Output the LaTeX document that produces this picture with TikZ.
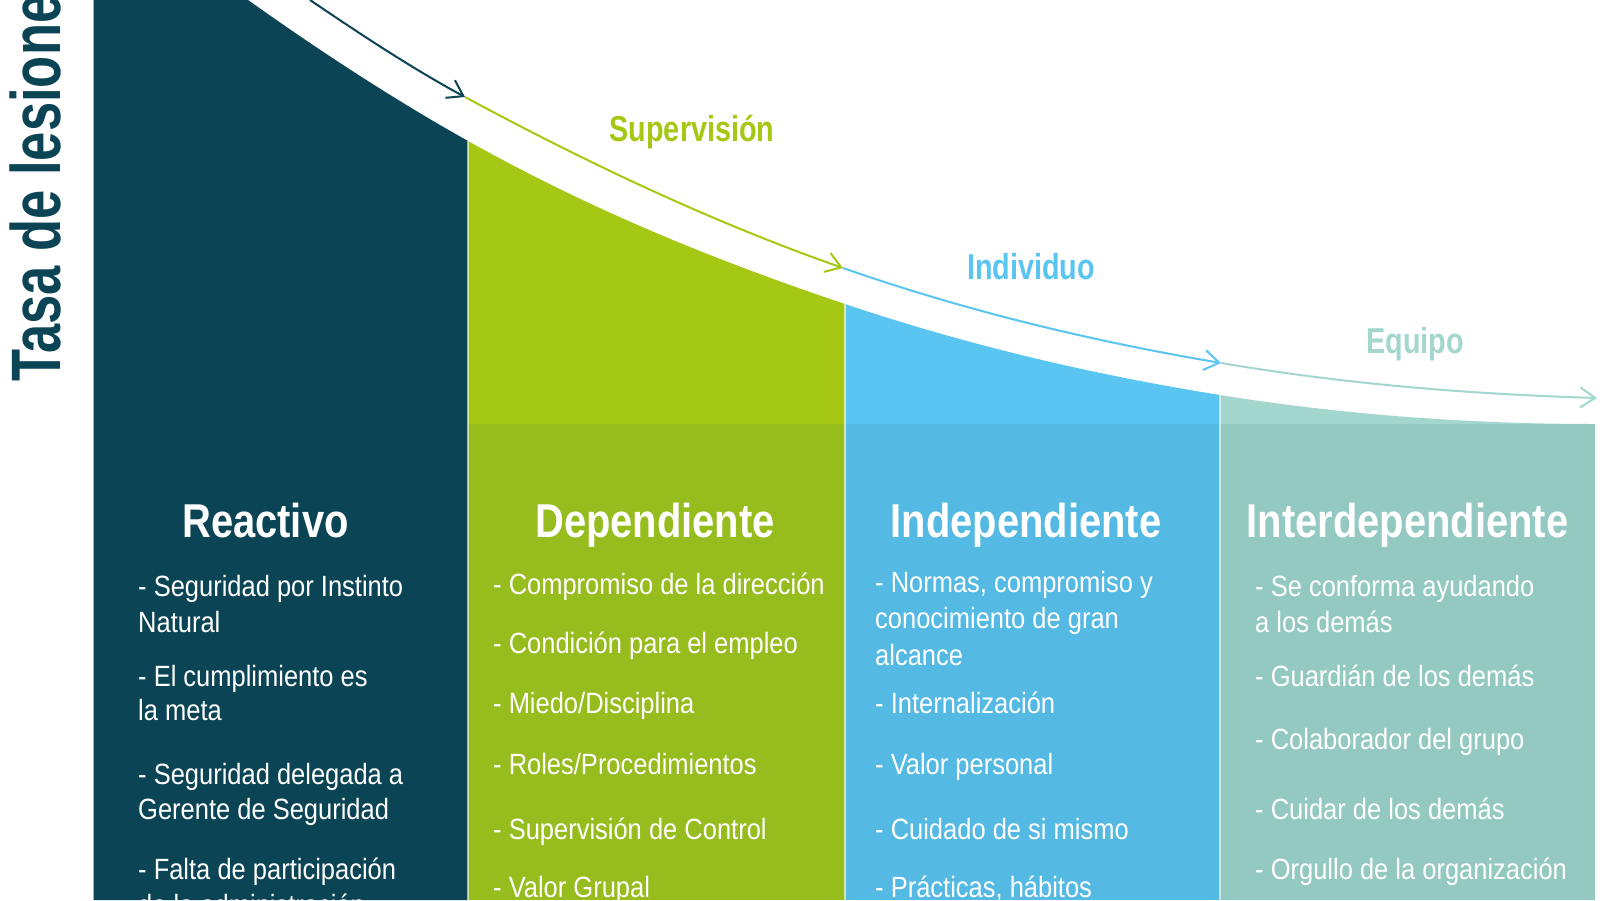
\documentclass[tikz,border=0pt]{standalone}
\usepackage{fontspec}
\setmainfont{Liberation Sans}[FakeStretch=0.87]
\newfontfamily\headfont{Liberation Sans}[FakeStretch=0.84]
\newfontfamily\labfont{Liberation Sans}[FakeStretch=0.80]
\newfontfamily\tasafont{Liberation Sans}[FakeStretch=0.75]
\usetikzlibrary{arrows.meta}
\definecolor{cdark}{HTML}{0B4555}
\definecolor{cgreen}{HTML}{A5C815}
\definecolor{cgreenlo}{HTML}{97BC1E}
\definecolor{cblue}{HTML}{5BC5F2}
\definecolor{cbluelo}{HTML}{54B9E3}
\definecolor{cteal}{HTML}{A3D7CD}
\definecolor{ctealo}{HTML}{94C9C1}
\tikzset{
  item/.style={anchor=base west, inner sep=0pt, text=white, font=\fontsize{29.3}{36}\selectfont},
  head/.style={anchor=base, inner sep=0pt, text=white, font=\headfont\bfseries\fontsize{47.5}{50}\selectfont},
  lab/.style={anchor=base, inner sep=0pt, font=\labfont\bfseries\fontsize{36}{40}\selectfont},
  sep/.style={white, line width=1.2pt, opacity=0.6},
  arr/.style={line width=2pt, -{Straight Barb[length=15pt, width=20pt, line width=2pt]}},
}
\begin{document}
\begin{tikzpicture}[x=1pt, y=-1pt]
\useasboundingbox (0,0) rectangle (1600,900);
\clip (0,0) rectangle (1600,900);
\fill[white] (0,0) rectangle (1600,900);
% curve points of the column tops
\coordinate (p0) at (248,0);
\coordinate (p1) at (468,141);
\coordinate (p2) at (845,304);
\coordinate (p3) at (1220,395);
\coordinate (p4) at (1595,424);
% columns
\fill[cdark] (93,-10) -- (248,-10) -- (p0) .. controls (321.3,52.1) and (394.7,99.9) .. (p1) -- (468,900) -- (93,900) -- cycle;
\fill[cgreen] (p1) .. controls (593.7,211.4) and (719.3,261.8) .. (p2) -- (845,424) -- (468,424) -- cycle;
\fill[cgreenlo] (468,424) rectangle (845,900);
\fill[cblue] (p2) .. controls (970,346) and (1095,375) .. (p3) -- (1220,424) -- (845,424) -- cycle;
\fill[cbluelo] (845,424) rectangle (1220,900);
\fill[cteal] (p3) .. controls (1345.3,415) and (1470.7,424) .. (p4) -- (1220,424) -- cycle;
\fill[ctealo] (1220,424) rectangle (1595,900);
% separators
\draw[sep] (93,0) -- (93,900);
\draw[sep] (p1) -- (468,900);
\draw[sep] (p2) -- (845,900);
\draw[sep] (p3) -- (1220,900);
% arrow curve
\coordinate (a0) at (310,0);
\coordinate (a1) at (465,97);
\coordinate (a2) at (843,268);
\coordinate (a3) at (1221,363);
\coordinate (a4) at (1597,398);
\draw[arr, cdark] (a0) .. controls (361.7,35.1) and (413.3,69.1) .. (a1);
\draw[arr, cgreen] (a1) .. controls (591,165) and (717,223.9) .. (a2);
\draw[arr, cblue] (a2) .. controls (969,312.1) and (1095,341.6) .. (a3);
\draw[arr, cteal] (a3) .. controls (1346.3,384.3) and (1471.7,394.2) .. (a4);
% arrow labels
\node[lab, text=cgreen] (lsup) at (692,141) {Supervisión};
\node[lab, text=cblue] (lind) at (1031,279) {Individuo};
\node[lab, text=cteal] (lequ) at (1415,353) {Equipo};
% axis title
\node[anchor=base west, inner sep=0pt, rotate=90, text=cdark, font=\tasafont\bfseries\fontsize{70}{70}\selectfont] (tasa) at (60,382) {Tasa de lesiones};
% headings
\node[head] (h1) at (265.5,537) {Reactivo};
\node[head] (h2) at (655,537) {Dependiente};
\node[head] (h3) at (1026,537) {Independiente};
\node[head] (h4) at (1407.5,537) {Interdependiente};
% column 1
\node[item] (c1a) at (138,596) {- Seguridad por Instinto};
\node[item] (c1b) at (138,632) {Natural};
\node[item] (c1c) at (138,686) {- El cumplimiento es};
\node[item] (c1d) at (138,720) {la meta};
\node[item] (c1e) at (138,784) {- Seguridad delegada a};
\node[item] (c1f) at (138,819) {Gerente de Seguridad};
\node[item] (c1g) at (138,879) {- Falta de participación};
\node[item] (c1h) at (138,915) {de la administración};
% column 2
\node[item] (c2a) at (493,594) {- Compromiso de la dirección};
\node[item] (c2b) at (493,653) {- Condición para el empleo};
\node[item] (c2c) at (493,713) {- Miedo/Disciplina};
\node[item] (c2d) at (493,774) {- Roles/Procedimientos};
\node[item] (c2e) at (493,839) {- Supervisión de Control};
\node[item] (c2f) at (493,897) {- Valor Grupal};
% column 3
\node[item] (c3a) at (875,592) {- Normas, compromiso y};
\node[item] (c3b) at (875,628) {conocimiento de gran};
\node[item] (c3c) at (875,665) {alcance};
\node[item] (c3d) at (875,713) {- Internalización};
\node[item] (c3e) at (875,774) {- Valor personal};
\node[item] (c3f) at (875,839) {- Cuidado de si mismo};
\node[item] (c3g) at (875,897) {- Prácticas, hábitos};
% column 4
\node[item] (c4a) at (1255,596) {- Se conforma ayudando};
\node[item] (c4b) at (1255,632) {a los demás};
\node[item] (c4c) at (1255,686) {- Guardián de los demás};
\node[item] (c4d) at (1255,749) {- Colaborador del grupo};
\node[item] (c4e) at (1255,819) {- Cuidar de los demás};
\node[item] (c4f) at (1255,879) {- Orgullo de la organización};
\end{tikzpicture}
\end{document}
